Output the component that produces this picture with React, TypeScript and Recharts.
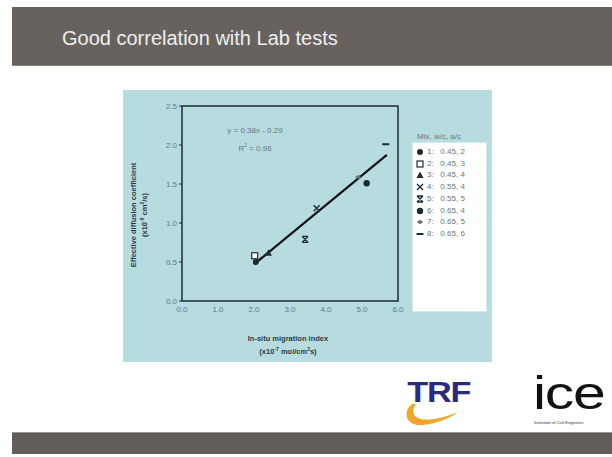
import React from "react";
import { ScatterChart, Scatter, XAxis, YAxis, ReferenceArea } from "recharts";

// mixes: label, w/c, a/c
const mixLabels = ["1", "2", "3", "4", "5", "6", "7", "8"];
const mixWc = ["0.45", "0.45", "0.45", "0.55", "0.55", "0.65", "0.65", "0.65"];
const mixAc = ["2", "3", "4", "4", "5", "4", "5", "6"];
const migrationIndex = [2.05, 2.02, 2.4, 3.74, 3.42, 5.13, 4.9, 5.66];
const diffusionCoef = [0.5, 0.58, 0.62, 1.19, 0.79, 1.51, 1.59, 2.01];
const markerKinds = ["dot", "square", "triangle", "cross", "star", "bigdot", "smalldot", "dash"];

const xTicks = [0, 1, 2, 3, 4, 5, 6];
const yTicks = [0, 0.5, 1, 1.5, 2, 2.5];

const slope = 0.38;
const intercept = -0.29;
const trendRange = [2.0, 5.69];
const trendData = trendRange.map((x) => ({ x, y: slope * x + intercept }));

const INK = "#1e2a30";
const PANEL = "#b7dce0";
const TICK = "#66777b";

function Marker({ kind, cx, cy }: { kind: string; cx: number; cy: number }) {
  switch (kind) {
    case "dot":
      return <circle cx={cx} cy={cy} r={3} fill={INK} />;
    case "bigdot":
      return <circle cx={cx} cy={cy} r={3.2} fill={INK} />;
    case "square":
      return <rect x={cx - 3} y={cy - 3} width={6} height={6} fill="#fff" stroke={INK} strokeWidth={1.2} />;
    case "triangle":
      return <path d={`M${cx},${cy - 3.5} L${cx + 3.5},${cy + 3} L${cx - 3.5},${cy + 3} Z`} fill={INK} />;
    case "cross":
      return (
        <path d={`M${cx - 3},${cy - 3} L${cx + 3},${cy + 3} M${cx + 3},${cy - 3} L${cx - 3},${cy + 3}`} stroke={INK} strokeWidth={1.4} />
      );
    case "star":
      return (
        <path
          d={`M${cx - 3},${cy - 3} L${cx + 3},${cy + 3} M${cx + 3},${cy - 3} L${cx - 3},${cy + 3} M${cx - 3},${cy - 3} L${cx + 3},${cy - 3} M${cx - 3},${cy + 3} L${cx + 3},${cy + 3}`}
          stroke={INK}
          strokeWidth={1.4}
        />
      );
    case "smalldot":
      return (
        <g>
          <line x1={cx - 3} y1={cy} x2={cx + 3} y2={cy} stroke="#556" strokeWidth={1} />
          <circle cx={cx} cy={cy} r={2} fill="#6b7377" />
        </g>
      );
    case "dash":
    default:
      return <line x1={cx - 3.5} y1={cy} x2={cx + 3.5} y2={cy} stroke={INK} strokeWidth={2} />;
  }
}

const small: React.CSSProperties = { fontFamily: "'Liberation Sans', Arial, sans-serif", fontSize: 8, color: TICK };

export default function App() {
  const fmt = (v: number) => v.toFixed(1);
  return (
    <div style={{ position: "absolute", left: 0, top: 0, width: 612, height: 457, background: "#fff", overflow: "hidden", fontFamily: "'Liberation Sans', Arial, sans-serif" }}>
      {/* header bar */}
      <div style={{ position: "absolute", left: 12, top: 7, width: 600, height: 58, background: "#68625f", borderBottom: "1px solid #8a8583" }} />
      <div style={{ position: "absolute", left: 62, top: 27, fontSize: 20, color: "#eeeeee", whiteSpace: "nowrap" }}>
        Good correlation with Lab tests
      </div>

      {/* chart panel */}
      <div style={{ position: "absolute", left: 123, top: 90, width: 369, height: 272, background: PANEL }}>
        <ScatterChart width={369} height={272} margin={{ top: 16, right: 94, bottom: 0, left: 0 }}>
          <XAxis
            type="number"
            dataKey="x"
            domain={[0, 6]}
            ticks={xTicks}
            tickFormatter={fmt}
            height={61}
            axisLine={false}
            tickLine={false}
            tickSize={3}
            tick={{ fontSize: 8, fill: TICK }}
          />
          <YAxis
            type="number"
            dataKey="y"
            domain={[0, 2.5]}
            ticks={yTicks}
            tickFormatter={fmt}
            width={59}
            axisLine={false}
            tickLine={{ stroke: INK }}
            tickSize={3}
            tick={{ fontSize: 8, fill: TICK }}
          />
          <ReferenceArea x1={0} x2={6} y1={0} y2={2.5} fill="none" stroke={INK} strokeWidth={1.5} fillOpacity={0} />
          <Scatter
            data={trendData}
            line={{ stroke: "#111", strokeWidth: 2.2 }}
            shape={() => <g />}
            isAnimationActive={false}
          />
          {markerKinds.map((kind, i) => (
            <Scatter
              key={kind}
              name={mixLabels[i]}
              data={[{ x: migrationIndex[i], y: diffusionCoef[i] }]}
              shape={(p: any) => <Marker kind={kind} cx={p.cx} cy={p.cy} />}
              isAnimationActive={false}
            />
          ))}
        </ScatterChart>

        {/* equation */}
        <div style={{ ...small, position: "absolute", left: 90, top: 34, width: 84, textAlign: "center", lineHeight: "14px" }}>
          y = 0.38x - 0.29
          <br />
          R<sup style={{ fontSize: 5 }}>2</sup> = 0.96
        </div>

        {/* y axis title */}
        <div
          style={{
            ...small,
            color: "#2e3a40",
            fontWeight: "bold",
            position: "absolute",
            left: 16,
            top: 114,
            width: 160,
            marginLeft: -80,
            textAlign: "center",
            lineHeight: "11px",
            fontSize: 7.5,
            transform: "rotate(-90deg)",
            transformOrigin: "80px 11px",
          }}
        >
          Effective diffusion coefficient
          <br />
          (x10<sup style={{ fontSize: 5, lineHeight: 0 }}>-8</sup> cm<sup style={{ fontSize: 5, lineHeight: 0 }}>2</sup>/s)
        </div>

        {/* x axis title */}
        <div style={{ ...small, color: "#2e3a40", fontWeight: "bold", fontSize: 7.5, position: "absolute", left: 105, top: 242, width: 120, textAlign: "center", lineHeight: "13px" }}>
          In-situ migration index
          <br />
          (x10<sup style={{ fontSize: 5, lineHeight: 0 }}>-7</sup> mol/cm<sup style={{ fontSize: 5, lineHeight: 0 }}>2</sup>s)
        </div>

        {/* legend */}
        <div style={{ ...small, position: "absolute", left: 294, top: 42, whiteSpace: "nowrap" }}>Mix, w/c, a/c</div>
        <div style={{ position: "absolute", left: 289, top: 52, width: 73, height: 168, background: "#fff", border: "1px solid #d5e8ea" }}>
          {markerKinds.map((kind, i) => (
            <div key={kind} style={{ position: "absolute", left: 0, top: 3 + i * 11.7, height: 11.7, width: 73 }}>
              <svg width={12} height={12} style={{ position: "absolute", left: 1, top: 0 }}>
                <Marker kind={kind} cx={6} cy={6} />
              </svg>
              <div style={{ ...small, position: "absolute", left: 14, top: 1, whiteSpace: "nowrap" }}>
                {mixLabels[i]}:&nbsp;&nbsp;&nbsp;{mixWc[i]}, {mixAc[i]}
              </div>
            </div>
          ))}
        </div>
      </div>

      {/* logos */}
      <svg width={110} height={60} style={{ position: "absolute", left: 392, top: 372 }}>
        <path d="M20,32 C10,40 14,54 30,53 C44,52 58,46 66,40 C52,46 34,50 26,46 C20,43 20,37 24,32 Z" fill="#f2a629" />
        <text x={17} y={30} fontSize={29} fontWeight="bold" fill="#2b2a80" fontFamily="'Liberation Sans', Arial, sans-serif" letterSpacing={-1} transform="scale(1.18,1) translate(-4,0)">
          TRF
        </text>
      </svg>
      <div style={{ position: "absolute", left: 533, top: 366, fontSize: 46, color: "#111", fontFamily: "'Liberation Sans', Arial, sans-serif", letterSpacing: -1, transform: "scaleX(1.28)", transformOrigin: "0 0" }}>
        ice
      </div>
      <div style={{ position: "absolute", left: 534, top: 420, fontSize: 4, color: "#333", whiteSpace: "nowrap" }}>
        Institution of Civil Engineers
      </div>

      {/* footer bar */}
      <div style={{ position: "absolute", left: 12, top: 432, width: 600, height: 21, background: "#625d5b", borderTop: "1px solid #999" }} />
    </div>
  );
}
